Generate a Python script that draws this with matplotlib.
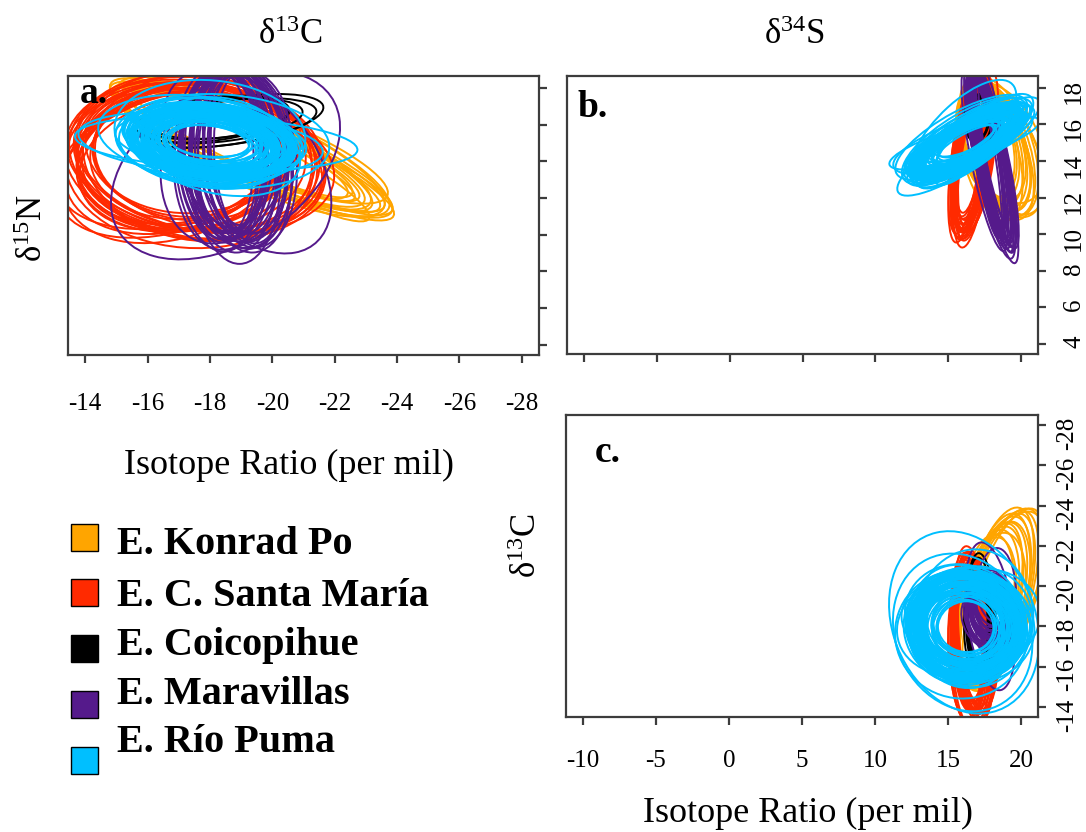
import matplotlib
matplotlib.use("Agg")
import matplotlib.pyplot as plt
import numpy as np
from matplotlib.patches import Ellipse, Rectangle

plt.rcParams["font.family"] = ["Liberation Serif", "DejaVu Serif"]
plt.rcParams["mathtext.fontset"] = "stix"

W, H = 1086, 832
Q95 = 2.448  # sqrt of the 95% chi-square quantile, 2 df

GROUPS = ["E. Konrad Po", "E. C. Santa María", "E. Coicopihue", "E. Maravillas", "E. Río Puma"]
COLORS = ["#FFA500", "#FF2A00", "#000000", "#551A8B", "#00BFFF"]

# posterior niche draws, one row each:
# (mean d13C, mean d15N, mean d34S, sd d13C, sd d15N, sd d34S, r C-N, r C-S, r N-S)
KONRAD_PO = [
    (-19.2, 14.8, 18.2, 1.80, 1.45, 1.00, 0.88, -0.50, -0.45),
    (-19.0, 15.0, 17.8, 1.55, 1.30, 0.85, 0.90, -0.40, -0.40),
    (-19.4, 14.6, 18.6, 1.82, 1.50, 1.20, 0.86, -0.60, -0.50),
    (-19.1, 14.9, 18.0, 1.45, 1.25, 0.95, 0.92, -0.35, -0.42),
    (-19.3, 14.7, 18.4, 1.76, 1.52, 1.05, 0.80, -0.55, -0.48),
    (-18.9, 15.1, 17.6, 1.50, 1.25, 0.80, 0.90, -0.30, -0.38),
    (-19.5, 14.5, 18.8, 1.78, 1.40, 1.15, 0.89, -0.65, -0.50),
    (-19.0, 14.9, 18.2, 1.72, 1.48, 1.00, 0.87, -0.45, -0.55),
    (-19.2, 14.4, 17.9, 1.60, 1.50, 0.90, 0.93, -0.50, -0.45),
    (-19.3, 15.0, 18.6, 1.80, 1.35, 1.25, 0.82, -0.62, -0.40),
    (-18.8, 14.9, 17.7, 1.48, 1.20, 0.82, 0.88, -0.32, -0.35),
    (-19.4, 14.5, 18.3, 1.84, 1.52, 1.05, 0.90, -0.55, -0.52),
    (-19.1, 14.8, 18.1, 1.66, 1.40, 0.95, 0.84, -0.48, -0.44),
    (-19.4, 14.8, 18.5, 1.78, 1.55, 1.10, 0.83, -0.58, -0.47),
    (-19.2, 14.7, 18.2, 1.74, 1.42, 1.02, 0.89, -0.52, -0.46),
    (-19.0, 14.9, 17.9, 1.62, 1.38, 0.92, 0.87, -0.44, -0.43),
]

SANTA_MARIA = [
    (-17.4, 14.3, 16.6, 1.50, 1.65, 0.50, 0.05, 0.25, 0.50),
    (-17.2, 14.0, 16.4, 1.40, 1.55, 0.45, -0.10, 0.20, 0.45),
    (-17.6, 14.5, 16.8, 1.60, 1.75, 0.55, 0.15, 0.30, 0.55),
    (-17.0, 13.9, 16.3, 1.30, 1.50, 0.42, -0.20, 0.15, 0.40),
    (-17.5, 14.2, 16.7, 1.70, 1.80, 0.60, 0.10, 0.35, 0.60),
    (-17.3, 14.6, 16.5, 1.25, 1.40, 0.40, 0.00, 0.20, 0.50),
    (-17.8, 14.1, 16.9, 1.55, 1.60, 0.50, 0.25, 0.25, 0.45),
    (-16.9, 14.2, 16.2, 1.45, 1.70, 0.48, -0.25, 0.10, 0.55),
    (-17.4, 13.8, 16.6, 1.65, 1.85, 0.52, 0.05, 0.30, 0.50),
    (-17.1, 14.4, 16.4, 1.20, 1.45, 0.45, -0.05, 0.20, 0.35),
    (-17.7, 14.0, 16.8, 1.75, 1.60, 0.55, 0.20, 0.40, 0.60),
    (-17.2, 14.7, 16.5, 1.35, 1.70, 0.44, -0.15, 0.15, 0.50),
    (-17.6, 14.3, 17.0, 1.50, 1.90, 0.58, 0.10, 0.30, 0.65),
    (-17.0, 14.1, 16.3, 1.60, 1.55, 0.46, -0.30, 0.20, 0.45),
    (-17.3, 14.2, 16.5, 1.45, 1.62, 0.48, 0.00, 0.22, 0.50),
    (-17.5, 14.4, 16.7, 1.58, 1.72, 0.53, 0.12, 0.28, 0.55),
    (-17.1, 14.0, 16.4, 1.38, 1.58, 0.46, -0.12, 0.18, 0.48),
    (-17.6, 14.1, 16.8, 1.68, 1.78, 0.56, 0.18, 0.32, 0.58),
    (-16.8, 13.9, 16.3, 1.52, 1.66, 0.47, -0.35, 0.12, 0.52),
    (-17.4, 14.5, 16.6, 1.28, 1.52, 0.44, 0.06, 0.20, 0.46),
    (-17.2, 14.3, 16.6, 1.42, 1.64, 0.50, -0.08, 0.24, 0.52),
    (-17.5, 14.0, 16.5, 1.55, 1.76, 0.54, 0.14, 0.26, 0.50),
    (-17.0, 14.4, 16.7, 1.32, 1.56, 0.45, -0.18, 0.20, 0.56),
    (-17.7, 14.2, 16.9, 1.62, 1.68, 0.57, 0.22, 0.34, 0.48),
    (-16.9, 14.0, 16.2, 1.48, 1.82, 0.49, -0.28, 0.14, 0.54),
    (-17.3, 14.6, 16.4, 1.22, 1.48, 0.42, 0.02, 0.18, 0.44),
]

COICOPIHUE = [
    (-18.4, 16.2, 17.1, 1.05, 0.50, 0.35, -0.40, 0.10, 0.00),
    (-18.2, 16.3, 17.0, 0.95, 0.45, 0.32, -0.35, 0.05, 0.10),
    (-18.6, 16.1, 17.2, 1.15, 0.55, 0.38, -0.45, 0.15, -0.05),
    (-18.3, 16.4, 17.1, 0.90, 0.48, 0.30, -0.30, 0.10, 0.05),
    (-18.7, 16.2, 17.3, 1.20, 0.60, 0.40, -0.50, 0.20, -0.10),
    (-18.1, 16.3, 16.9, 1.00, 0.52, 0.33, -0.38, 0.00, 0.00),
]

MARAVILLAS = [
    (-18.8, 14.3, 17.9, 0.60, 1.90, 0.60, 0.10, 0.20, -0.80),
    (-18.4, 14.5, 17.6, 0.55, 1.80, 0.55, 0.05, 0.15, -0.78),
    (-19.2, 14.2, 18.2, 0.65, 2.00, 0.62, 0.15, 0.25, -0.82),
    (-18.6, 14.4, 17.7, 0.50, 1.75, 0.50, 0.00, 0.10, -0.75),
    (-18.5, 13.8, 17.9, 1.50, 2.10, 0.70, -0.40, 0.35, -0.80),
    (-19.0, 14.6, 18.1, 0.62, 1.85, 0.58, 0.20, 0.20, -0.85),
    (-18.3, 14.1, 17.5, 0.58, 2.05, 0.65, 0.10, 0.25, -0.80),
    (-19.2, 14.0, 18.2, 1.10, 2.05, 0.60, 0.45, -0.10, -0.78),
    (-18.7, 14.4, 17.9, 0.52, 1.87, 0.56, 0.05, 0.15, -0.83),
    (-19.3, 14.3, 18.3, 0.48, 1.95, 0.50, 0.12, 0.22, -0.79),
    (-18.5, 14.5, 17.6, 0.56, 1.77, 0.52, 0.08, 0.18, -0.76),
    (-18.8, 13.8, 18.1, 0.60, 2.20, 0.70, 0.10, 0.30, -0.84),
    (-19.1, 14.4, 18.0, 0.44, 1.91, 0.46, 0.15, 0.20, -0.81),
    (-18.4, 14.2, 17.6, 0.57, 1.83, 0.57, 0.05, 0.20, -0.80),
    (-18.8, 14.4, 17.9, 0.70, 1.97, 0.61, 0.18, 0.18, -0.82),
    (-18.6, 14.3, 17.8, 0.40, 1.85, 0.44, -0.05, 0.12, -0.79),
    (-19.0, 14.1, 18.0, 0.66, 2.07, 0.66, 0.22, 0.26, -0.83),
    (-18.7, 14.6, 17.7, 0.54, 1.73, 0.50, 0.02, 0.14, -0.77),
    (-18.9, 14.2, 18.1, 0.72, 2.01, 0.64, 0.14, 0.24, -0.81),
    (-18.3, 14.4, 17.5, 0.45, 1.89, 0.48, 0.08, 0.20, -0.80),
    (-18.5, 14.3, 17.8, 0.85, 1.95, 0.62, -0.20, 0.28, -0.78),
    (-19.2, 14.5, 18.2, 0.52, 1.81, 0.54, 0.12, 0.16, -0.84),
    (-18.9, 14.7, 17.8, 0.38, 1.70, 0.42, 0.06, 0.10, -0.80),
    (-18.6, 14.0, 18.0, 0.62, 2.03, 0.60, 0.16, 0.22, -0.86),
    (-19.0, 14.4, 17.6, 0.50, 1.77, 0.48, 0.10, 0.18, -0.76),
    (-18.4, 14.3, 18.1, 0.58, 1.93, 0.58, 0.04, 0.24, -0.82),
    (-18.8, 14.5, 17.7, 0.42, 1.83, 0.45, 0.20, 0.12, -0.79),
    (-19.1, 14.1, 18.3, 0.64, 1.99, 0.63, 0.08, 0.26, -0.83),
    (-18.7, 14.4, 17.9, 0.36, 1.75, 0.40, 0.12, 0.15, -0.78),
    (-18.5, 14.2, 17.7, 0.68, 2.05, 0.66, -0.06, 0.20, -0.81),
]

RIO_PUMA = [
    (-18.0, 15.1, 16.2, 0.52, 0.37, 0.78, 0.15, 0.05, 0.68),
    (-17.9, 15.0, 16.3, 0.55, 0.40, 0.82, 0.20, 0.00, 0.72),
    (-18.1, 15.2, 16.1, 0.58, 0.39, 0.86, 0.10, 0.08, 0.66),
    (-18.0, 14.9, 16.4, 0.60, 0.44, 0.90, 0.25, -0.05, 0.76),
    (-17.8, 15.1, 16.2, 0.63, 0.46, 0.95, 0.18, 0.10, 0.70),
    (-18.2, 15.0, 16.3, 0.65, 0.48, 0.98, 0.22, 0.02, 0.74),
    (-18.0, 15.2, 16.0, 0.68, 0.52, 1.02, 0.12, 0.06, 0.78),
    (-17.9, 14.9, 16.5, 0.70, 0.51, 1.05, 0.28, -0.08, 0.72),
    (-18.1, 15.1, 16.2, 0.72, 0.55, 1.08, 0.16, 0.12, 0.76),
    (-18.0, 15.0, 16.1, 0.75, 0.58, 1.12, 0.20, 0.00, 0.82),
    (-17.8, 15.3, 16.4, 0.77, 0.54, 1.15, 0.30, 0.04, 0.70),
    (-18.2, 14.8, 16.3, 0.80, 0.60, 1.18, 0.14, -0.04, 0.74),
    (-18.0, 15.1, 16.2, 0.82, 0.63, 1.22, 0.24, 0.08, 0.80),
    (-17.9, 15.0, 16.0, 0.85, 0.61, 1.25, 0.18, 0.10, 0.72),
    (-18.1, 15.2, 16.5, 0.87, 0.67, 1.28, 0.26, -0.02, 0.76),
    (-18.0, 14.9, 16.3, 0.90, 0.69, 1.32, 0.10, 0.05, 0.74),
    (-17.8, 15.1, 16.1, 0.92, 0.66, 1.35, 0.32, 0.00, 0.78),
    (-18.2, 15.0, 16.4, 0.95, 0.71, 1.38, 0.20, 0.12, 0.74),
    (-18.0, 15.2, 16.2, 0.97, 0.75, 1.42, 0.16, -0.06, 0.82),
    (-17.9, 14.8, 16.0, 1.00, 0.72, 1.45, 0.28, 0.06, 0.72),
    (-18.1, 15.1, 16.5, 1.02, 0.78, 1.48, 0.22, 0.02, 0.76),
    (-18.0, 15.0, 16.3, 1.05, 0.80, 1.52, 0.14, 0.10, 0.74),
    (-17.8, 15.2, 16.1, 1.07, 0.77, 1.55, 0.30, -0.04, 0.80),
    (-18.2, 14.9, 16.4, 1.10, 0.83, 1.58, 0.18, 0.08, 0.74),
    (-18.0, 15.1, 16.2, 1.12, 0.86, 1.62, 0.24, 0.00, 0.78),
    (-17.9, 15.0, 16.0, 1.15, 0.90, 1.65, 0.12, 0.05, 0.72),
    (-18.1, 15.2, 16.6, 1.18, 0.92, 1.70, 0.26, -0.08, 0.76),
    (-18.0, 14.8, 16.3, 1.00, 0.94, 1.40, 0.20, 0.04, 0.82),
    (-18.2, 15.1, 16.1, 0.90, 0.98, 1.75, 0.08, 0.14, 0.72),
    (-17.8, 15.0, 16.4, 1.16, 0.63, 1.30, 0.34, 0.06, 0.70),
    (-18.0, 15.3, 16.2, 0.78, 0.76, 1.60, 0.18, -0.10, 0.84),
    (-18.1, 14.9, 16.0, 1.08, 0.69, 1.10, 0.22, 0.12, 0.68),
    (-17.9, 15.1, 16.5, 0.94, 0.85, 1.72, 0.28, 0.00, 0.80),
    (-18.0, 15.0, 16.3, 0.66, 0.67, 1.50, 0.14, 0.08, 0.76),
    (-18.2, 15.2, 16.1, 1.12, 0.52, 1.20, 0.30, -0.02, 0.70),
    (-17.9, 14.9, 16.4, 0.84, 0.90, 1.00, 0.16, 0.10, 0.76),
    (-18.0, 15.0, 16.2, 0.88, 0.66, 1.36, 0.20, 0.06, 0.78),
    (-17.8, 15.1, 16.4, 0.96, 0.72, 1.46, 0.26, 0.02, 0.80),
    (-18.2, 14.9, 16.0, 1.04, 0.78, 1.56, 0.18, 0.10, 0.76),
    (-18.0, 15.2, 16.3, 1.12, 0.84, 1.66, 0.22, -0.04, 0.82),
    (-17.9, 14.8, 16.5, 0.80, 0.62, 1.26, 0.30, 0.08, 0.74),
    (-18.1, 15.0, 16.1, 0.98, 0.90, 1.50, 0.14, 0.00, 0.80),
    (-18.3, 15.1, 16.2, 1.14, 0.70, 1.70, 0.24, 0.12, 0.78),
    (-17.7, 15.0, 16.4, 0.92, 0.76, 1.40, 0.28, -0.06, 0.76),
    (-18.0, 15.3, 16.0, 1.06, 0.88, 1.60, 0.16, 0.04, 0.82),
    (-18.1, 14.8, 16.3, 0.86, 0.74, 1.34, 0.20, 0.10, 0.78),
    (-17.9, 15.1, 16.6, 1.10, 0.80, 1.76, 0.32, 0.02, 0.80),
    (-18.2, 15.0, 16.2, 0.76, 0.56, 1.18, 0.18, -0.02, 0.74),
    (-18.1, 15.0, 16.2, 0.70, 0.60, 1.20, 0.20, 0.04, 0.76),
    (-17.9, 15.2, 16.4, 0.80, 0.70, 1.30, 0.24, 0.08, 0.78),
    (-18.0, 14.9, 16.1, 0.90, 0.74, 1.40, 0.18, -0.02, 0.74),
    (-18.2, 15.1, 16.3, 0.96, 0.80, 1.48, 0.28, 0.06, 0.80),
    (-17.8, 15.0, 16.5, 1.00, 0.68, 1.54, 0.16, 0.10, 0.72),
    (-18.0, 15.3, 16.2, 0.74, 0.64, 1.28, 0.22, 0.00, 0.78),
    (-18.1, 14.8, 16.0, 0.84, 0.72, 1.36, 0.26, 0.06, 0.76),
    (-17.9, 15.1, 16.4, 1.06, 0.82, 1.62, 0.14, -0.04, 0.80),
    (-18.0, 15.0, 16.3, 0.62, 0.50, 1.00, 0.20, 0.08, 0.72),
    (-18.2, 15.2, 16.1, 0.88, 0.76, 1.44, 0.30, 0.02, 0.78),
    (-17.8, 14.9, 16.3, 0.94, 0.66, 1.52, 0.18, 0.12, 0.74),
    (-18.0, 15.1, 16.5, 1.08, 0.86, 1.68, 0.24, -0.06, 0.82),
    (-18.1, 15.0, 16.0, 0.78, 0.62, 1.24, 0.12, 0.04, 0.76),
    (-17.9, 15.2, 16.2, 0.86, 0.78, 1.38, 0.26, 0.10, 0.78),
    (-18.2, 14.9, 16.4, 1.02, 0.74, 1.58, 0.20, 0.00, 0.76),
    (-18.0, 15.0, 16.1, 0.68, 0.56, 1.12, 0.16, 0.06, 0.74),
    (-17.8, 15.1, 16.3, 0.98, 0.84, 1.50, 0.28, -0.02, 0.80),
    (-18.1, 15.2, 16.5, 0.82, 0.68, 1.32, 0.22, 0.08, 0.78),
    (-18.0, 14.8, 16.2, 1.04, 0.88, 1.64, 0.18, 0.04, 0.80),
    (-17.9, 15.0, 16.0, 0.72, 0.58, 1.16, 0.24, 0.00, 0.72),
    (-17.7, 15.0, 16.0, 1.60, 0.70, 1.95, 0.28, 0.15, 0.70),
    (-18.2, 15.0, 16.1, 1.85, 0.60, 2.10, 0.25, 0.20, 0.78),
    (-18.0, 15.5, 16.0, 1.25, 1.20, 1.50, 0.10, 0.10, 0.70),
    (-18.2, 14.8, 16.4, 1.10, 1.10, 2.00, 0.30, -0.15, 0.86),
    (-17.6, 15.3, 15.9, 1.30, 0.95, 1.85, 0.22, 0.02, 0.74),
    (-18.4, 15.1, 16.8, 1.40, 1.05, 1.65, 0.12, -0.02, 0.80),
]

ALL_DRAWS = [KONRAD_PO, SANTA_MARIA, COICOPIHUE, MARAVILLAS, RIO_PUMA]

C_TICKS = [-14, -16, -18, -20, -22, -24, -26, -28]
N_TICKS = [4, 6, 8, 10, 12, 14, 16, 18]
S_TICKS = [-10, -5, 0, 5, 10, 15, 20]
FRAME = "#3c3c3c"


def px(x, y):
    return x / W, 1 - y / H


def axes_box(left, top, right, bottom):
    x0, y0 = px(left, bottom)
    return [x0, y0, (right - left) / W, (bottom - top) / H]


def niche_ellipse(mx, my, sx, sy, r, color):
    cov = np.array([[sx * sx, r * sx * sy], [r * sx * sy, sy * sy]])
    vals, vecs = np.linalg.eigh(cov)
    angle = np.degrees(np.arctan2(vecs[1, 1], vecs[0, 1]))
    return Ellipse((mx, my), 2 * Q95 * np.sqrt(vals[1]), 2 * Q95 * np.sqrt(vals[0]),
                   angle=angle, fill=False, edgecolor=color, lw=1.4)


def style_axes(ax, xticks, yticks, xlabels, ylabels, xpad, ypad):
    for s in ax.spines.values():
        s.set_color(FRAME)
        s.set_linewidth(1.6)
    ax.set_xticks(xticks, labels=[str(t) for t in xticks])
    ax.set_yticks(yticks, labels=[str(t) for t in yticks])
    ax.yaxis.tick_right()
    ax.tick_params(direction="out", length=6, width=1.6, color=FRAME, labelsize=18)
    ax.tick_params(axis="x", labelbottom=xlabels, pad=xpad)
    ax.tick_params(axis="y", labelright=ylabels, labelrotation=90, pad=ypad)


fig = plt.figure(figsize=(W / 100, H / 100), dpi=100)
ax_a = fig.add_axes(axes_box(68, 76, 539, 355))
ax_b = fig.add_axes(axes_box(567, 76, 1038, 354))
ax_c = fig.add_axes(axes_box(566, 415, 1038, 717))

for draws, color in zip(ALL_DRAWS, COLORS):
    for mc, mn, ms, sc, sn, ss, rcn, rcs, rns in draws:
        ax_a.add_patch(niche_ellipse(mc, mn, sc, sn, rcn, color))
        ax_b.add_patch(niche_ellipse(ms, mn, ss, sn, rns, color))
        ax_c.add_patch(niche_ellipse(ms, mc, ss, sc, rcs, color))

ax_a.set_xlim(-13.45, -28.55)
ax_a.set_ylim(3.45, 18.65)
ax_b.set_xlim(-11.16, 21.16)
ax_b.set_ylim(3.45, 18.65)
ax_c.set_xlim(-11.16, 21.16)
ax_c.set_ylim(-13.5, -28.5)

style_axes(ax_a, C_TICKS, N_TICKS, True, False, 21, 10)
style_axes(ax_b, S_TICKS, N_TICKS, False, True, 16, 12)
style_axes(ax_c, S_TICKS, C_TICKS, True, True, 18, 7)

# panel letters
for (x, y), letter in zip([(80, 103), (577, 117), (595, 462)], ["a.", "b.", "c."]):
    fig.text(*px(x, y), letter, fontsize=27, fontweight="bold", ha="left", va="baseline")

# isotope names
fig.text(*px(291, 35), r"δ$\mathregular{^{13}}$C", fontsize=25, ha="center", va="center")
fig.text(*px(795, 35), r"δ$\mathregular{^{34}}$S", fontsize=25, ha="center", va="center")
fig.text(*px(33, 228), r"δ$\mathregular{^{15}}$N", fontsize=25, ha="center", va="center", rotation=90)
fig.text(*px(527, 545), r"δ$\mathregular{^{13}}$C", fontsize=25, ha="center", va="center", rotation=90)

fig.text(*px(289, 465), "Isotope Ratio (per mil)", fontsize=26, ha="center", va="center")
fig.text(*px(808, 813), "Isotope Ratio (per mil)", fontsize=26, ha="center", va="center")

# legend
leg = fig.add_axes([0, 0, 1, 1])
leg.set_xlim(0, W)
leg.set_ylim(H, 0)
leg.axis("off")
square_y = [537, 592, 648, 704, 760]
text_y = [545, 596, 645, 694, 743]
for name, color, sy, ty in zip(GROUPS, COLORS, square_y, text_y):
    leg.add_patch(Rectangle((71, sy - 13.5), 27, 27, facecolor=color, edgecolor="black", lw=1.0))
    leg.text(117, ty, name, fontsize=29, fontweight="bold", ha="left", va="center")

fig.savefig("out.png", dpi=100)
